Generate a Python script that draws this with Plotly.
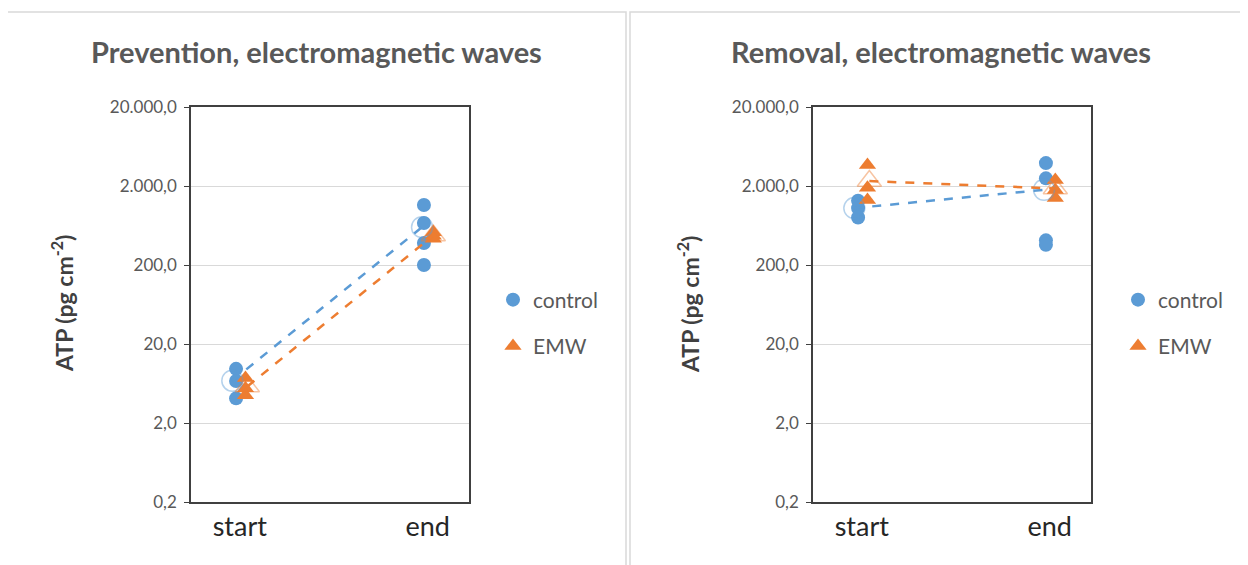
import plotly.graph_objects as go
import numpy as np

W, H = 1248, 565
SHIFT = 8  # browser body margin

# ---- data (ATP, pg cm-2) ----
categories = ["start", "end"]
prev_control_start = [9.7, 6.8, 4.1]
prev_control_end = [1150, 680, 380, 200]
prev_emw_start = [7.4, 5.5, 4.5]
prev_emw_end = [520, 470, 430]

rem_control_start = [1300, 1050, 800]
rem_control_end = [3900, 2500, 410, 360]
rem_emw_start = [3700, 1900, 1330]
rem_emw_end = [2380, 1780, 1410]

tick_vals = [0.2, 2, 20, 200, 2000, 20000]
tick_text = ["0,2", "2,0", "20,0", "200,0", "2.000,0", "20.000,0"]

BLUE = "#5B9BD5"
ORANGE = "#ED7D31"
FONT = "Lato"

def px_x(p):
    return (p - SHIFT) / W

def px_y(p):
    return 1 - (p - SHIFT) / H

fig = go.Figure()

panels = [
    dict(cs=prev_control_start, ce=prev_control_end, es=prev_emw_start, ee=prev_emw_end,
         xa="x", ya="y", legend="legend"),
    dict(cs=rem_control_start, ce=rem_control_end, es=rem_emw_start, ee=rem_emw_end,
         xa="x2", ya="y2", legend="legend2"),
]

C_OFF, E_OFF = -0.02, 0.03

for p in panels:
    xs = [0 + C_OFF] * len(p["cs"]) + [1 + C_OFF] * len(p["ce"])
    ys = p["cs"] + p["ce"]
    fig.add_trace(go.Scatter(x=xs, y=ys, mode="markers", name="control",
                             marker=dict(symbol="circle", size=14, color=BLUE),
                             xaxis=p["xa"], yaxis=p["ya"], legend=p["legend"],
                             legendgroup="c", showlegend=True))
    xs = [0 + E_OFF] * len(p["es"]) + [1 + E_OFF] * len(p["ee"])
    ys = p["es"] + p["ee"]
    fig.add_trace(go.Scatter(x=xs, y=ys, mode="markers", name="EMW",
                             marker=dict(symbol="triangle-up", size=15, color=ORANGE),
                             xaxis=p["xa"], yaxis=p["ya"], legend=p["legend"],
                             legendgroup="e", showlegend=True))
    cm = [float(np.mean(p["cs"])), float(np.mean(p["ce"]))]
    em = [float(np.mean(p["es"])), float(np.mean(p["ee"]))]
    fig.add_trace(go.Scatter(x=[0 + C_OFF - 0.02, 1 + C_OFF - 0.01], y=cm, mode="lines+markers",
                             line=dict(color=BLUE, width=2.5, dash="dash"),
                             marker=dict(symbol="circle-open", size=21,
                                         color="rgba(91,155,213,0.45)", line=dict(width=1.5)),
                             xaxis=p["xa"], yaxis=p["ya"], showlegend=False))
    fig.add_trace(go.Scatter(x=[0 + E_OFF + 0.01, 1 + E_OFF], y=em, mode="lines+markers",
                             line=dict(color=ORANGE, width=2.5, dash="dash"),
                             marker=dict(symbol="triangle-up-open", size=21,
                                         color="rgba(237,125,49,0.45)", line=dict(width=1.5)),
                             xaxis=p["xa"], yaxis=p["ya"], showlegend=False))

y_dom = [px_y(502), px_y(107)]
xdom1 = [px_x(191), px_x(469)]
xdom2 = [px_x(813), px_x(1091)]

xaxis_common = dict(range=[-0.26, 1.22], tickvals=[0, 1], ticktext=categories,
                    showgrid=False, zeroline=False, showline=True, mirror=True,
                    linecolor="#404040", linewidth=1.5, ticks="",
                    tickfont=dict(family=FONT, size=27, color="#262626"), fixedrange=True,
                    automargin=False)
yaxis_common = dict(type="log", range=[np.log10(0.2), np.log10(20000)],
                    tickvals=tick_vals, ticktext=tick_text, showgrid=True,
                    gridcolor="#D9D9D9", gridwidth=1, zeroline=False, showline=True,
                    mirror=True, linecolor="#404040", linewidth=1.5, ticks="outside",
                    ticklen=5, tickcolor="#404040", ticklabelstandoff=4,
                    tickfont=dict(family=FONT, size=17, color="#595959"),
                    fixedrange=True, automargin=False)

legend_common = dict(font=dict(family=FONT, size=21, color="#595959"),
                     traceorder="grouped", tracegroupgap=16, bgcolor="rgba(0,0,0,0)",
                     itemwidth=30, xanchor="left", yanchor="middle")

ytitle = "<b>ATP (pg cm<sup>-2</sup>)</b>"

fig.update_layout(
    width=W, height=H,
    margin=dict(l=0, r=0, t=0, b=0, autoexpand=False),
    paper_bgcolor="white", plot_bgcolor="white",
    xaxis=dict(domain=xdom1, anchor="y", **xaxis_common),
    yaxis=dict(domain=y_dom, anchor="x", **yaxis_common),
    xaxis2=dict(domain=xdom2, anchor="y2", **xaxis_common),
    yaxis2=dict(domain=y_dom, anchor="x2", **yaxis_common),
    legend=dict(x=px_x(493), y=px_y(323), **legend_common),
    legend2=dict(x=px_x(1118), y=px_y(323), **legend_common),
    showlegend=True,
    shapes=[
        dict(type="rect", xref="paper", yref="paper", x0=px_x(5), x1=px_x(626),
             y0=px_y(590), y1=px_y(12), line=dict(color="#D9D9D9", width=1.5)),
        dict(type="rect", xref="paper", yref="paper", x0=px_x(630), x1=px_x(1245),
             y0=px_y(590), y1=px_y(12), line=dict(color="#D9D9D9", width=1.5)),
    ],
    annotations=[
        dict(text="<b>Prevention, electromagnetic waves</b>", x=px_x(316), y=px_y(52),
             xref="paper", yref="paper", showarrow=False, xanchor="center", yanchor="middle",
             font=dict(family=FONT, size=29, color="#595959")),
        dict(text="<b>Removal, electromagnetic waves</b>", x=px_x(941), y=px_y(52),
             xref="paper", yref="paper", showarrow=False, xanchor="center", yanchor="middle",
             font=dict(family=FONT, size=29, color="#595959")),
        dict(text=ytitle, x=px_x(62), y=px_y(304), textangle=-90,
             xref="paper", yref="paper", showarrow=False, xanchor="center", yanchor="middle",
             font=dict(family=FONT, size=23, color="#404040")),
        dict(text=ytitle, x=px_x(688), y=px_y(304), textangle=-90,
             xref="paper", yref="paper", showarrow=False, xanchor="center", yanchor="middle",
             font=dict(family=FONT, size=23, color="#404040")),
    ],
)

fig.write_html("out.html")
